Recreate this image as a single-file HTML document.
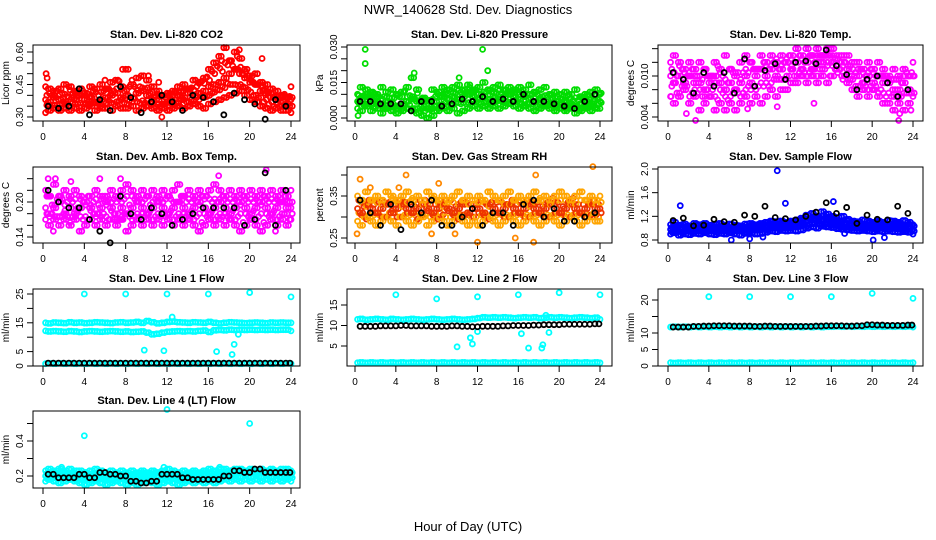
<!DOCTYPE html>
<html><head><meta charset="utf-8">
<style>
html,body{margin:0;padding:0;background:#fff;}
svg{display:block;font-family:"Liberation Sans",sans-serif;}
</style></head>
<body>
<svg id="chart" width="936" height="540" viewBox="0 0 936 540">
<rect width="936" height="540" fill="#fff"/>
<text x="468" y="14" font-size="13" text-anchor="middle">NWR_140628 Std. Dev. Diagnostics</text>
<text x="468" y="531" font-size="13" text-anchor="middle">Hour of Day (UTC)</text>
</svg>
<script>
// shared x categories (hours)
const hx48=[0.25,0.75,1.25,1.75,2.25,2.75,3.25,3.75,4.25,4.75,5.25,5.75,6.25,6.75,7.25,7.75,8.25,8.75,9.25,9.75,10.25,10.75,11.25,11.75,12.25,12.75,13.25,13.75,14.25,14.75,15.25,15.75,16.25,16.75,17.25,17.75,18.25,18.75,19.25,19.75,20.25,20.75,21.25,21.75,22.25,22.75,23.25,23.75];
const hx24=[0.5,1.5,2.5,3.5,4.5,5.5,6.5,7.5,8.5,9.5,10.5,11.5,12.5,13.5,14.5,15.5,16.5,17.5,18.5,19.5,20.5,21.5,22.5,23.5];
const xTicks=[0,4,8,12,16,20,24];

// Panel 1 CO2
const co2Lo=[0.32,0.33,0.34,0.33,0.34,0.33,0.34,0.33,0.34,0.35,0.33,0.34,0.34,0.33,0.35,0.34,0.34,0.35,0.33,0.34,0.35,0.34,0.33,0.34,0.33,0.34,0.35,0.34,0.35,0.36,0.35,0.34,0.36,0.37,0.38,0.39,0.40,0.41,0.42,0.40,0.38,0.37,0.35,0.34,0.33,0.34,0.33,0.33];
const co2Mid=[0.38,0.37,0.39,0.38,0.37,0.39,0.38,0.40,0.38,0.39,0.37,0.38,0.39,0.40,0.41,0.39,0.40,0.39,0.41,0.42,0.40,0.39,0.38,0.36,0.37,0.38,0.40,0.39,0.41,0.40,0.41,0.42,0.44,0.45,0.46,0.48,0.50,0.52,0.50,0.48,0.46,0.45,0.42,0.41,0.39,0.38,0.37,0.36];
const co2Hi=[0.44,0.43,0.42,0.43,0.45,0.44,0.42,0.43,0.41,0.44,0.43,0.45,0.43,0.46,0.47,0.44,0.52,0.45,0.48,0.49,0.47,0.44,0.42,0.40,0.41,0.42,0.44,0.45,0.43,0.47,0.46,0.48,0.52,0.55,0.58,0.62,0.56,0.60,0.57,0.52,0.49,0.50,0.46,0.45,0.43,0.42,0.40,0.39];
const co2Black=[0.35,0.34,0.35,0.43,0.31,0.38,0.33,0.44,0.39,0.32,0.37,0.40,0.37,0.33,0.40,0.39,0.37,0.31,0.41,0.38,0.36,0.29,0.38,0.35];
const co2OutX=[0.3,0.4,6.0,7.7,10.2,11.2,11.5,17.3,17.5,18.8,19.0,21.2];
const co2OutY=[0.50,0.48,0.47,0.52,0.49,0.46,0.30,0.56,0.62,0.58,0.61,0.57];

// Panel 2 Pressure
const prLo=[0.004,0.003,0.005,0.003,0.004,0.002,0.004,0.003,0.002,0.003,0.004,0.003,0.002,0.001,0.000,0.001,0.003,0.004,0.003,0.004,0.002,0.003,0.004,0.005,0.004,0.005,0.004,0.005,0.004,0.005,0.006,0.005,0.004,0.005,0.004,0.003,0.004,0.005,0.004,0.003,0.004,0.003,0.004,0.002,0.003,0.004,0.003,0.004];
const prMid=[0.007,0.008,0.009,0.008,0.007,0.006,0.007,0.006,0.005,0.006,0.007,0.008,0.007,0.005,0.004,0.005,0.007,0.009,0.008,0.009,0.008,0.009,0.010,0.009,0.008,0.009,0.008,0.009,0.008,0.009,0.010,0.009,0.008,0.009,0.008,0.007,0.008,0.007,0.006,0.007,0.006,0.007,0.006,0.005,0.006,0.007,0.006,0.008];
const prHi=[0.010,0.013,0.012,0.011,0.010,0.013,0.011,0.012,0.010,0.011,0.013,0.017,0.012,0.008,0.007,0.012,0.011,0.013,0.012,0.013,0.014,0.012,0.014,0.012,0.013,0.015,0.012,0.013,0.014,0.012,0.013,0.012,0.013,0.012,0.014,0.011,0.012,0.013,0.010,0.011,0.010,0.011,0.010,0.012,0.009,0.010,0.011,0.012];
const prBlack=[0.007,0.007,0.006,0.006,0.006,0.003,0.007,0.007,0.005,0.006,0.008,0.007,0.009,0.007,0.008,0.007,0.010,0.007,0.007,0.006,0.005,0.004,0.007,0.010];
const prOutX=[1.0,1.0,5.5,5.8,10.2,13.0,11.2,0.3,12.5];
const prOutY=[0.029,0.023,0.017,0.019,0.017,0.020,0.013,0.001,0.029];

// Panel 3 Li-820 Temp
const tpLo=[0.007,0.006,0.007,0.008,0.006,0.007,0.005,0.006,0.007,0.005,0.006,0.005,0.006,0.005,0.006,0.007,0.006,0.007,0.006,0.007,0.008,0.007,0.008,0.008,0.009,0.009,0.010,0.009,0.010,0.009,0.010,0.009,0.010,0.011,0.010,0.009,0.008,0.007,0.008,0.007,0.008,0.007,0.006,0.006,0.005,0.006,0.005,0.006];
const tpMid=[0.010,0.009,0.010,0.009,0.010,0.009,0.009,0.008,0.009,0.010,0.009,0.008,0.009,0.008,0.009,0.010,0.009,0.010,0.011,0.010,0.011,0.010,0.011,0.012,0.011,0.012,0.011,0.012,0.011,0.012,0.012,0.013,0.012,0.011,0.012,0.011,0.010,0.010,0.009,0.010,0.009,0.010,0.009,0.009,0.008,0.008,0.009,0.008];
const tpHi=[0.012,0.013,0.012,0.011,0.012,0.011,0.012,0.011,0.010,0.012,0.011,0.013,0.011,0.010,0.012,0.013,0.012,0.011,0.013,0.012,0.013,0.012,0.013,0.012,0.013,0.014,0.013,0.014,0.013,0.014,0.013,0.014,0.014,0.013,0.013,0.013,0.012,0.012,0.011,0.012,0.011,0.012,0.011,0.010,0.011,0.010,0.011,0.010];
const tpBlack=[0.0105,0.0095,0.0075,0.0105,0.0085,0.0105,0.0075,0.0125,0.0085,0.0108,0.0118,0.0095,0.0120,0.0122,0.0118,0.0138,0.0115,0.0102,0.0080,0.0095,0.0100,0.0090,0.0070,0.0080];
const tpOutX=[2.7,10.7,22.7,23.8,0.3,1.8,7.8,14.3,22.6];
const tpOutY=[0.0035,0.0055,0.0045,0.0050,0.0070,0.0045,0.0052,0.0060,0.0035];

// Panel 4 Amb Box Temp
const abLo=[0.17,0.16,0.17,0.16,0.17,0.16,0.17,0.15,0.16,0.17,0.16,0.17,0.16,0.17,0.16,0.17,0.15,0.16,0.17,0.16,0.17,0.16,0.17,0.16,0.17,0.16,0.17,0.16,0.17,0.16,0.15,0.16,0.17,0.16,0.17,0.16,0.17,0.16,0.15,0.16,0.17,0.16,0.15,0.16,0.17,0.16,0.17,0.16];
const abMid=[0.19,0.18,0.19,0.20,0.18,0.19,0.18,0.19,0.20,0.19,0.18,0.19,0.20,0.19,0.18,0.19,0.18,0.19,0.20,0.19,0.18,0.19,0.20,0.19,0.18,0.19,0.20,0.19,0.18,0.19,0.20,0.19,0.18,0.19,0.20,0.19,0.18,0.19,0.20,0.19,0.18,0.19,0.20,0.19,0.18,0.19,0.20,0.19];
const abHi=[0.22,0.21,0.23,0.21,0.22,0.21,0.22,0.21,0.20,0.21,0.22,0.21,0.21,0.22,0.21,0.22,0.23,0.22,0.21,0.22,0.21,0.22,0.21,0.22,0.21,0.22,0.23,0.21,0.22,0.21,0.22,0.21,0.22,0.23,0.22,0.21,0.22,0.21,0.22,0.21,0.22,0.21,0.22,0.21,0.22,0.21,0.22,0.21];
const abBlack=[0.22,0.20,0.19,0.19,0.17,0.15,0.13,0.21,0.18,0.17,0.19,0.18,0.16,0.17,0.18,0.19,0.19,0.19,0.19,0.16,0.17,0.25,0.16,0.22];
const abOutX=[0.5,1.2,2.7,5.5,7.5,21.6,1.0,17.0,22.5];
const abOutY=[0.24,0.24,0.235,0.24,0.24,0.255,0.15,0.245,0.15];

// Panel 5 Gas Stream RH
const rhLo=[0.29,0.28,0.30,0.29,0.28,0.29,0.30,0.29,0.28,0.30,0.29,0.28,0.29,0.30,0.28,0.29,0.30,0.29,0.28,0.29,0.30,0.29,0.28,0.29,0.28,0.29,0.30,0.29,0.28,0.29,0.30,0.29,0.28,0.29,0.30,0.29,0.28,0.29,0.30,0.29,0.28,0.29,0.30,0.29,0.28,0.29,0.30,0.29];
const rhMid=[0.32,0.31,0.33,0.32,0.31,0.32,0.33,0.31,0.32,0.33,0.32,0.31,0.32,0.33,0.32,0.31,0.32,0.33,0.32,0.31,0.32,0.33,0.31,0.32,0.32,0.31,0.33,0.32,0.31,0.32,0.33,0.32,0.31,0.32,0.33,0.32,0.31,0.32,0.33,0.32,0.31,0.32,0.33,0.32,0.31,0.32,0.33,0.32];
const rhHi=[0.35,0.34,0.36,0.34,0.35,0.34,0.36,0.35,0.34,0.35,0.36,0.34,0.35,0.34,0.36,0.35,0.34,0.35,0.34,0.35,0.36,0.34,0.35,0.34,0.35,0.34,0.36,0.35,0.34,0.35,0.36,0.34,0.35,0.34,0.35,0.36,0.34,0.35,0.34,0.35,0.36,0.35,0.34,0.35,0.36,0.34,0.35,0.34];
const rhBlack=[0.34,0.31,0.28,0.33,0.27,0.33,0.31,0.34,0.28,0.28,0.30,0.32,0.28,0.31,0.31,0.28,0.33,0.34,0.30,0.32,0.29,0.29,0.30,0.31];
const rhOutX=[0.5,1.5,4.3,5.0,9.8,8.2,12.0,15.7,17.5,17.7,23.3,0.2,7.5];
const rhOutY=[0.39,0.37,0.37,0.40,0.26,0.38,0.24,0.25,0.24,0.40,0.42,0.26,0.26];

// Panel 6 Sample Flow
const sfLo=[0.90,0.92,0.88,0.90,0.89,0.91,0.90,0.92,0.90,0.89,0.91,0.90,0.92,0.90,0.88,0.91,0.92,0.90,0.91,0.93,0.95,0.94,0.96,0.95,0.96,0.95,0.97,1.00,1.02,1.00,1.03,1.02,1.01,0.99,0.98,0.97,0.96,0.95,0.96,0.95,0.94,0.95,0.94,0.95,0.94,0.93,0.94,0.93];
const sfMid=[0.98,1.00,0.97,0.99,0.98,1.00,0.99,1.00,0.98,0.99,1.00,0.98,1.00,0.99,0.97,1.00,1.01,0.99,1.01,1.03,1.05,1.04,1.05,1.04,1.05,1.06,1.08,1.12,1.14,1.12,1.15,1.13,1.10,1.09,1.08,1.06,1.05,1.04,1.05,1.04,1.03,1.04,1.03,1.05,1.04,1.03,1.04,1.02];
const sfHi=[1.06,1.10,1.05,1.07,1.04,1.08,1.06,1.08,1.05,1.06,1.08,1.05,1.07,1.05,1.04,1.07,1.08,1.06,1.08,1.10,1.12,1.11,1.12,1.10,1.12,1.14,1.17,1.22,1.25,1.20,1.28,1.24,1.20,1.18,1.20,1.15,1.12,1.11,1.14,1.12,1.10,1.12,1.10,1.13,1.12,1.10,1.13,1.10];
const sfBlack=[1.13,1.17,1.04,1.05,1.15,1.11,1.10,1.22,1.20,1.37,1.18,1.16,1.14,1.20,1.27,1.43,1.25,1.35,1.08,1.22,1.15,1.14,1.37,1.25];
const sfOutX=[1.2,6.2,8.0,9.3,11.5,16.2,17.3,20.1,21.2,10.7];
const sfOutY=[1.38,0.80,0.82,0.85,1.42,1.45,0.91,0.80,0.84,1.97];

// Panel 7 Line 1 Flow
const l1A=[15.0,14.8,15.1,15.0,14.9,15.2,15.0,15.1,14.9,15.0,15.2,15.1,15.0,14.9,15.1,15.2,15.0,15.1,15.3,15.0,15.6,15.2,14.8,15.0,15.3,15.4,15.2,15.1,15.0,15.2,15.1,15.0,15.3,15.0,14.8,15.0,15.2,15.1,15.0,14.9,15.0,15.1,15.0,14.9,15.1,15.0,15.1,15.0];
const l1B=[12.2,12.0,12.1,12.0,11.9,12.1,12.0,11.8,12.0,12.1,12.0,11.9,12.0,12.1,12.0,11.9,12.0,11.8,11.9,12.0,11.6,11.0,11.2,11.6,11.9,12.0,12.1,12.0,12.1,12.0,12.2,12.3,11.8,12.4,12.5,12.4,12.6,12.5,12.6,12.5,12.6,12.5,12.6,12.5,12.6,12.5,12.6,12.6];
const l1C=[0.8,0.9,0.8,0.9,0.8,0.9,0.8,0.9,0.8,0.9,0.8,0.9,0.8,0.9,0.8,0.9,0.8,0.9,0.8,0.9,0.8,0.9,0.8,0.9,0.8,0.9,0.8,0.9,0.8,0.9,0.8,0.9,0.8,0.9,0.8,0.9,0.8,0.9,0.8,0.9,0.8,0.9,0.8,0.9,0.8,0.9,0.8,0.9];
const l1Black=[1.0,1.0,1.0,1.0,1.0,1.0,1.0,1.0,1.0,1.0,1.0,1.0,1.0,1.0,1.0,1.0,1.0,1.0,1.0,1.0,1.0,1.0,1.0,1.0];
const l1OutX=[4,8,12,16,20,24,9.8,11.7,16.8,18.3,18.5,12.5,18.9];
const l1OutY=[25,25,25,25,25.5,24,5.5,5.3,5,4,7.5,17,11];

// Panel 8 Line 2 Flow
const l2A=[11.5,11.6,11.4,11.5,11.6,11.5,11.4,11.6,11.5,11.4,11.5,11.6,11.5,11.4,11.5,11.6,11.5,11.4,11.5,11.6,11.5,11.4,11.5,11.6,11.8,12.0,11.9,12.0,11.9,12.0,11.9,11.8,11.9,12.0,11.9,12.0,11.8,11.9,12.0,11.9,12.0,11.9,11.8,11.9,12.0,11.9,11.8,11.9];
const l2C=[0.9,1.0,0.9,1.0,0.9,1.0,0.9,1.0,0.9,1.0,0.9,1.0,0.9,1.0,0.9,1.0,0.9,1.0,0.9,1.0,0.9,1.0,0.9,1.0,0.9,1.0,0.9,1.0,0.9,1.0,0.9,1.0,0.9,1.0,0.9,1.0,0.9,1.0,0.9,1.0,0.9,1.0,0.9,1.0,0.9,1.0,0.9,1.0];
const l2Black=[9.8,9.8,9.9,9.9,10.0,9.9,9.9,9.8,9.8,9.9,9.8,9.7,9.8,9.8,9.9,10.0,10.0,10.1,10.2,10.2,10.3,10.3,10.3,10.4];
const l2OutX=[4,8,12,16,20,24,10,11.3,11.5,12,16.3,17,18.3,18.4,18.7,19];
const l2OutY=[17.5,16.5,17,17.5,18,17.5,4.8,7,5.5,8.5,8,4.5,4.5,5.3,12.5,8.3];

// Panel 9 Line 3 Flow
const l3A=[11.8,11.9,11.8,11.9,11.8,11.9,11.8,11.9,11.8,11.9,11.8,11.9,11.8,11.9,11.8,11.9,11.8,11.9,11.8,11.9,11.8,11.9,11.8,11.9,11.8,11.9,11.8,11.9,11.8,11.9,11.8,11.9,11.9,12.0,11.9,12.0,11.9,12.0,11.9,12.0,11.9,12.0,11.9,12.0,11.9,12.0,11.9,12.0];
const l3C=[1.0,0.9,1.0,0.9,1.0,0.9,1.0,0.9,1.0,0.9,1.0,0.9,1.0,0.9,1.0,0.9,1.0,0.9,1.0,0.9,1.0,0.9,1.0,0.9,1.0,0.9,1.0,0.9,1.0,0.9,1.0,0.9,1.0,0.9,1.0,0.9,1.0,0.9,1.0,0.9,1.0,0.9,1.0,0.9,1.0,0.9,1.0,0.9];
const l3Black=[11.8,11.8,12.0,12.1,12.2,12.2,12.1,12.1,12.0,12.1,12.0,12.0,12.0,12.0,12.1,12.2,12.2,12.1,12.2,12.5,12.4,12.3,12.3,12.4];
const l3OutX=[4,8,12,16,20,24];
const l3OutY=[21,21,21,21,22,20.5];

// Panel 10 Line 4 (LT) Flow
const l4Lo=[0.17,0.18,0.17,0.16,0.17,0.18,0.17,0.16,0.15,0.16,0.17,0.16,0.15,0.16,0.17,0.16,0.15,0.16,0.15,0.16,0.17,0.16,0.15,0.16,0.17,0.16,0.15,0.16,0.17,0.16,0.17,0.16,0.17,0.16,0.17,0.18,0.17,0.18,0.17,0.18,0.17,0.18,0.17,0.18,0.17,0.18,0.17,0.18];
const l4Mid=[0.20,0.21,0.20,0.21,0.20,0.21,0.20,0.20,0.19,0.20,0.21,0.20,0.19,0.20,0.21,0.20,0.19,0.20,0.19,0.20,0.20,0.21,0.20,0.20,0.21,0.20,0.19,0.20,0.20,0.19,0.20,0.21,0.20,0.20,0.21,0.21,0.20,0.21,0.22,0.21,0.22,0.21,0.22,0.21,0.22,0.21,0.22,0.21];
const l4Hi=[0.23,0.24,0.23,0.24,0.23,0.24,0.23,0.23,0.22,0.23,0.24,0.23,0.22,0.23,0.22,0.23,0.22,0.23,0.22,0.23,0.22,0.23,0.22,0.23,0.24,0.23,0.22,0.23,0.22,0.23,0.22,0.23,0.24,0.23,0.24,0.24,0.23,0.24,0.24,0.23,0.24,0.23,0.24,0.23,0.24,0.23,0.24,0.24];
const l4Black=[0.21,0.19,0.19,0.21,0.19,0.22,0.21,0.20,0.17,0.16,0.17,0.21,0.21,0.19,0.18,0.18,0.18,0.20,0.23,0.22,0.24,0.22,0.22,0.22];
const l4OutX=[4,12,20,1.8,11.7,17.1];
const l4OutY=[0.43,0.58,0.50,0.25,0.25,0.25];

const NS='http://www.w3.org/2000/svg';
const svg=document.getElementById('chart');
const COLS=[{l:33,r:300,x0:43,x24:291},{l:347,r:612,x0:355,x24:600},{l:658,r:923,x0:668,x24:913}];
const ROWS=[{t:45,b:121},{t:167,b:243},{t:289,b:366},{t:411,b:488}];

function mk(tag,attrs,parent){const e=document.createElementNS(NS,tag);for(const k in attrs)e.setAttribute(k,attrs[k]);(parent||svg).appendChild(e);return e;}

function panel(p){
  const C=COLS[p.col],R=ROWS[p.row];
  const g=mk('g',{});
  
  
  const xs=h=>C.x0+(h/24)*(C.x24-C.x0);
  const ys=v=>p.py0+(v-p.v0)*(p.py1-p.py0)/(p.v1-p.v0);
  const t=mk('text',{x:(C.l+C.r)/2,y:R.t-7,'font-size':11,'font-weight':'bold','text-anchor':'middle'},g);
  t.textContent=p.title;
  
  
  xTicks.forEach(h=>{
    const tk=mk('line',{x1:xs(h),x2:xs(h),y1:R.b,y2:R.b+6,stroke:'#000','stroke-width':1},g);
    
    
    const lb=mk('text',{x:xs(h),y:R.b+19,'font-size':10,'text-anchor':'middle'},g);
    lb.textContent=h;
    
    
  });
  p.ticks.forEach(v=>{
    const y=ys(v);
    const tk=mk('line',{x1:C.l-6,x2:C.l,y1:y,y2:y,stroke:'#000','stroke-width':1},g);
    
    
  });
  p.labels.forEach(s=>{
    const y=ys(parseFloat(s));
    const lb=mk('text',{x:0,y:0,'font-size':10,'text-anchor':'middle',transform:`translate(${C.l-10},${y}) rotate(-90)`},g);
    lb.textContent=s;
    
    
  });
  const yt=mk('text',{x:0,y:0,'font-size':10,'text-anchor':'middle',transform:`translate(${C.l-24},${(R.t+R.b)/2}) rotate(-90)`},g);
  yt.textContent=p.ylab;
  
  
  const pts=mk('g',{fill:'none','stroke-width':1.8},g);
  
  
  function dot(h,v,c){
    const d=mk('circle',{cx:xs(h),cy:ys(v),r:2.5,stroke:c},pts);
    
    
  }
  const n=hx48.length;
  p.layers.forEach((L,k)=>{
    hx48.forEach((h,i)=>{
      dot(h,L.v[i],L.c);
      dot(h+0.25,L.v[(i+1)%n],L.c);
      if(p.fillBetween && k<p.layers.length-1){
        const U=p.layers[k+1];
        dot(h+0.12,(L.v[i]+U.v[(i+2)%n])/2,L.c);
        dot(h+0.37,(L.v[(i+3)%n]+U.v[i])/2,U.c);
      }
    });
  });
  p.outX.forEach((h,i)=>dot(h,p.outY[i],p.outC));
  p.black.forEach((v,i)=>dot(hx24[i],v,'#000'));
  if(p.denseBlack){p.black.forEach((v,i)=>dot(Math.min(hx24[i]+0.5,23.9),v,'#000'));}
  const bx=mk('rect',{x:C.l,y:R.t,width:C.r-C.l,height:R.b-R.t,fill:'none',stroke:'#000','stroke-width':1},g);
  
  
}

panel({name:'co2',col:0,row:0,title:'Stan. Dev. Li-820 CO2',ylab:'Licor ppm',v0:0.30,py0:117,v1:0.60,py1:52,fillBetween:true,
  ticks:[0.30,0.35,0.40,0.45,0.50,0.55,0.60],labels:['0.30','0.45','0.60'],
  layers:[{v:co2Lo,c:'#ff0000'},{v:co2Mid,c:'#ff0000'},{v:co2Hi,c:'#ff0000'}],outX:co2OutX,outY:co2OutY,outC:'#ff0000',black:co2Black});
panel({name:'pressure',col:1,row:0,title:'Stan. Dev. Li-820 Pressure',ylab:'kPa',v0:0,py0:118,v1:0.030,py1:47,fillBetween:true,
  ticks:[0,0.005,0.010,0.015,0.020,0.025,0.030],labels:['0.000','0.015','0.030'],
  layers:[{v:prLo,c:'#00dd00'},{v:prMid,c:'#00dd00'},{v:prHi,c:'#00dd00'}],outX:prOutX,outY:prOutY,outC:'#00dd00',black:prBlack});
panel({name:'li820-temp',col:2,row:0,title:'Stan. Dev. Li-820 Temp.',ylab:'degrees C',v0:0.004,py0:117,v1:0.010,py1:76,fillBetween:true,
  ticks:[0.004,0.006,0.008,0.010,0.012,0.014],labels:['0.004','0.010'],
  layers:[{v:tpLo,c:'#ff00ff'},{v:tpMid,c:'#ff00ff'},{v:tpHi,c:'#ff00ff'}],outX:tpOutX,outY:tpOutY,outC:'#ff00ff',black:tpBlack});
panel({name:'amb-box-temp',col:0,row:1,title:'Stan. Dev. Amb. Box Temp.',ylab:'degrees C',v0:0.14,py0:237,v1:0.20,py1:202,fillBetween:true,
  ticks:[0.14,0.16,0.18,0.20,0.22,0.24],labels:['0.14','0.20'],
  layers:[{v:abLo,c:'#ff00ff'},{v:abMid,c:'#ff00ff'},{v:abHi,c:'#ff00ff'}],outX:abOutX,outY:abOutY,outC:'#ff00ff',black:abBlack});
panel({name:'gas-stream-rh',col:1,row:1,title:'Stan. Dev. Gas Stream RH',ylab:'percent',v0:0.25,py0:238,v1:0.35,py1:196,fillBetween:true,
  ticks:[0.25,0.30,0.35,0.40],labels:['0.25','0.35'],
  layers:[{v:rhLo,c:'#ffa500'},{v:rhMid,c:'#ee3300'},{v:rhHi,c:'#ffa500'}],outX:rhOutX,outY:rhOutY,outC:'#ff8800',black:rhBlack});
panel({name:'sample-flow',col:2,row:1,title:'Stan. Dev. Sample Flow',ylab:'ml/min',v0:0.8,py0:240,v1:2.0,py1:169,fillBetween:true,
  ticks:[0.8,1.2,1.6,2.0],labels:['0.8','1.2','1.6','2.0'],
  layers:[{v:sfLo,c:'#0000ff'},{v:sfMid,c:'#0000ff'},{v:sfHi,c:'#0000ff'}],outX:sfOutX,outY:sfOutY,outC:'#0000ff',black:sfBlack});
panel({name:'line1-flow',col:0,row:2,title:'Stan. Dev. Line 1 Flow',ylab:'ml/min',v0:0,py0:366,v1:25,py1:294,
  ticks:[0,5,10,15,20,25],labels:['0','5','15','25'],
  layers:[{v:l1A,c:'#00ffff'},{v:l1B,c:'#00ffff'},{v:l1C,c:'#00ffff'}],outX:l1OutX,outY:l1OutY,outC:'#00ffff',black:l1Black,denseBlack:true});
panel({name:'line2-flow',col:1,row:2,title:'Stan. Dev. Line 2 Flow',ylab:'ml/min',v0:5,py0:346,v1:15,py1:305,
  ticks:[5,10,15],labels:['5','10','15'],
  layers:[{v:l2A,c:'#00ffff'},{v:l2C,c:'#00ffff'}],outX:l2OutX,outY:l2OutY,outC:'#00ffff',black:l2Black,denseBlack:true});
panel({name:'line3-flow',col:2,row:2,title:'Stan. Dev. Line 3 Flow',ylab:'ml/min',v0:0,py0:366,v1:20,py1:300,
  ticks:[0,5,10,15,20],labels:['0','5','10','20'],
  layers:[{v:l3A,c:'#00ffff'},{v:l3C,c:'#00ffff'}],outX:l3OutX,outY:l3OutY,outC:'#00ffff',black:l3Black,denseBlack:true});
panel({name:'line4-flow',col:0,row:3,title:'Stan. Dev. Line 4 (LT) Flow',ylab:'ml/min',v0:0.2,py0:476,v1:0.4,py1:441,fillBetween:true,
  ticks:[0.2,0.3,0.4,0.5],labels:['0.2','0.4'],
  layers:[{v:l4Lo,c:'#00ffff'},{v:l4Mid,c:'#00ffff'},{v:l4Hi,c:'#00ffff'}],outX:l4OutX,outY:l4OutY,outC:'#00ffff',black:l4Black,denseBlack:true});
</script>
</body></html>
